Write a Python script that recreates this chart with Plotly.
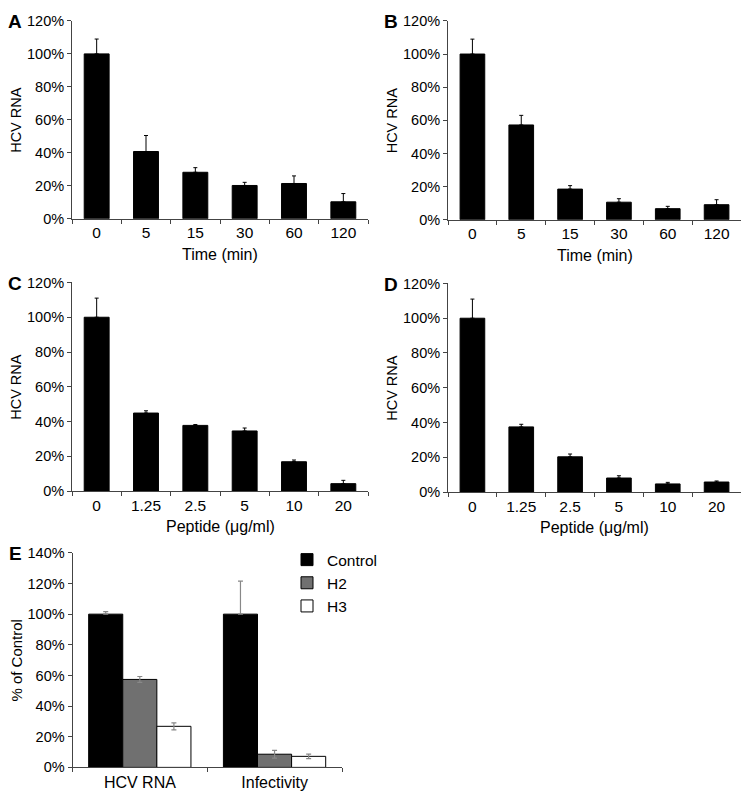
import plotly.graph_objects as go

# panel A / B: time course
time_labels = ["0", "5", "15", "30", "60", "120"]
a_values = [100, 40.8, 28.2, 20.2, 21.4, 10.3]
a_errors = [9, 9.7, 2.8, 1.9, 4.6, 5.0]
b_values = [100, 57.2, 18.5, 10.6, 6.7, 9.1]
b_errors = [9, 5.8, 2.1, 2.1, 1.4, 3.0]

# panel C / D: peptide dose
dose_labels = ["0", "1.25", "2.5", "5", "10", "20"]
c_values = [100, 44.9, 37.8, 34.6, 16.9, 4.3]
c_errors = [11, 1.3, 0.5, 1.7, 1.0, 1.9]
d_values = [100, 37.5, 20.3, 8.1, 4.7, 5.8]
d_errors = [11, 1.5, 1.6, 1.3, 0.9, 0.6]

# panel E: grouped
e_groups = ["HCV RNA", "Infectivity"]
e_series = ["Control", "H2", "H3"]
e_values = [[100, 100], [57.4, 8.6], [26.8, 7.2]]
e_errors = [[1.7, 21.5], [1.9, 2.5], [2.3, 1.5]]
e_colors = ["#000000", "#707070", "#ffffff"]

# the page body keeps its 8px margin, so size the figure to fill the rest
# and place everything in page pixels
OFF = 8
FW, FH = 749 - 2 * OFF, 802 - 2 * OFF
FONT = "Liberation Sans, Arial, sans-serif"
AX = "#444444"


def fx(x):
    return (x - OFF) / FW


def fy(y):
    return (FH + OFF - y) / FH


def pct(top, step):
    vals = list(range(0, top + 1, step))
    return vals, [f"{v}%" for v in vals]


fig = go.Figure()

panels = [
    ("A", time_labels, a_values, a_errors, "Time (min)", (72, 368), (215, 13)),
    ("B", time_labels, b_values, b_errors, "Time (min)", (448, 741), (216, 13)),
    ("C", dose_labels, c_values, c_errors, "Peptide (\u03bcg/ml)", (72, 368), (493, 280)),
    ("D", dose_labels, d_values, d_errors, "Peptide (\u03bcg/ml)", (448, 741), (494, 281)),
]

annotations = []


def label(text, x, y, size, angle=0):
    annotations.append(dict(text=text, x=fx(x), y=fy(y), xref="paper", yref="paper",
                            xanchor="center", yanchor="middle", showarrow=False,
                            textangle=angle, font=dict(size=size, color="black")))


yt120 = pct(120, 20)
for i, (letter, cats, vals, errs, xtitle, (x0, x1), (y0, y1)) in enumerate(panels, start=1):
    sfx = "" if i == 1 else str(i)
    fig.add_bar(
        x=cats, y=vals, xaxis="x" + sfx, yaxis="y" + sfx,
        marker=dict(color="black", line=dict(color="black", width=1)),
        error_y=dict(type="data", array=errs, symmetric=False,
                     arrayminus=[0] * len(errs), color="black",
                     thickness=1, width=2),
        showlegend=False,
    )
    fig.update_layout({
        "xaxis" + sfx: dict(
            domain=[fx(x0), fx(x1)], anchor="y" + sfx, type="category",
            showline=True, linecolor=AX, linewidth=1, ticks="outside",
            tickson="boundaries", ticklen=4, tickcolor=AX,
            tickfont=dict(size=15.5, color="black"), showgrid=False,
        ),
        "yaxis" + sfx: dict(
            domain=[fy(y0), fy(y1)], anchor="x" + sfx,
            range=[0, 120], tickvals=yt120[0], ticktext=yt120[1],
            showline=True, linecolor=AX, linewidth=1, ticks="outside",
            ticklen=4, tickcolor=AX, showgrid=False, zeroline=False,
            tickfont=dict(size=14.5, color="black"),
        ),
    })
    label(xtitle, (x0 + x1) / 2, y0 + 36, 16)
    label("HCV RNA", x0 - 56, (y0 + y1) / 2, 14.5, -90)
    label("<b>" + letter + "</b>", x0 - 57, y1 + 1, 19)

# panel E, bars placed with explicit width/offset
for name, vals, errs, col, off in zip(e_series, e_values, e_errors, e_colors,
                                      [-0.38, -0.127, 0.126]):
    minus = [0, 0] if name == "Control" else errs
    fig.add_bar(
        x=e_groups, y=vals, name=name, xaxis="x5", yaxis="y5",
        width=0.253, offset=off,
        marker=dict(color=col, line=dict(color="black", width=1)),
        error_y=dict(type="data", array=errs, arrayminus=minus, symmetric=False,
                     color="#888888", thickness=1.2, width=2.5),
    )

ex0, ex1, ey0, ey1 = 72.5, 342, 775, 556
yt140 = pct(140, 20)
fig.update_layout(
    xaxis5=dict(domain=[fx(ex0), fx(ex1)], anchor="y5", type="category",
                showline=True, linecolor=AX, ticks="outside", tickson="boundaries",
                ticklen=4, tickcolor=AX, tickfont=dict(size=16, color="black")),
    yaxis5=dict(domain=[fy(ey0), fy(ey1)], anchor="x5", range=[0, 140],
                tickvals=yt140[0], ticktext=yt140[1], showline=True,
                linecolor=AX, ticks="outside", ticklen=4, tickcolor=AX,
                showgrid=False, zeroline=False, tickfont=dict(size=14.5, color="black")),
    bargap=0.495,
)
label("% of Control", ex0 - 56, (ey0 + ey1) / 2, 15, -90)
label("<b>E</b>", ex0 - 57, ey1 + 1, 19)

fig.update_layout(
    width=FW, height=FH,
    margin=dict(l=0, r=0, t=0, b=0),
    paper_bgcolor="white", plot_bgcolor="white",
    font=dict(family=FONT, size=16, color="black"),
    annotations=annotations,
    legend=dict(x=fx(287), y=fy(546), xanchor="left", yanchor="top",
                font=dict(size=15.5), itemwidth=30,
                bgcolor="rgba(0,0,0,0)"),
)

fig.write_html("out.html")
